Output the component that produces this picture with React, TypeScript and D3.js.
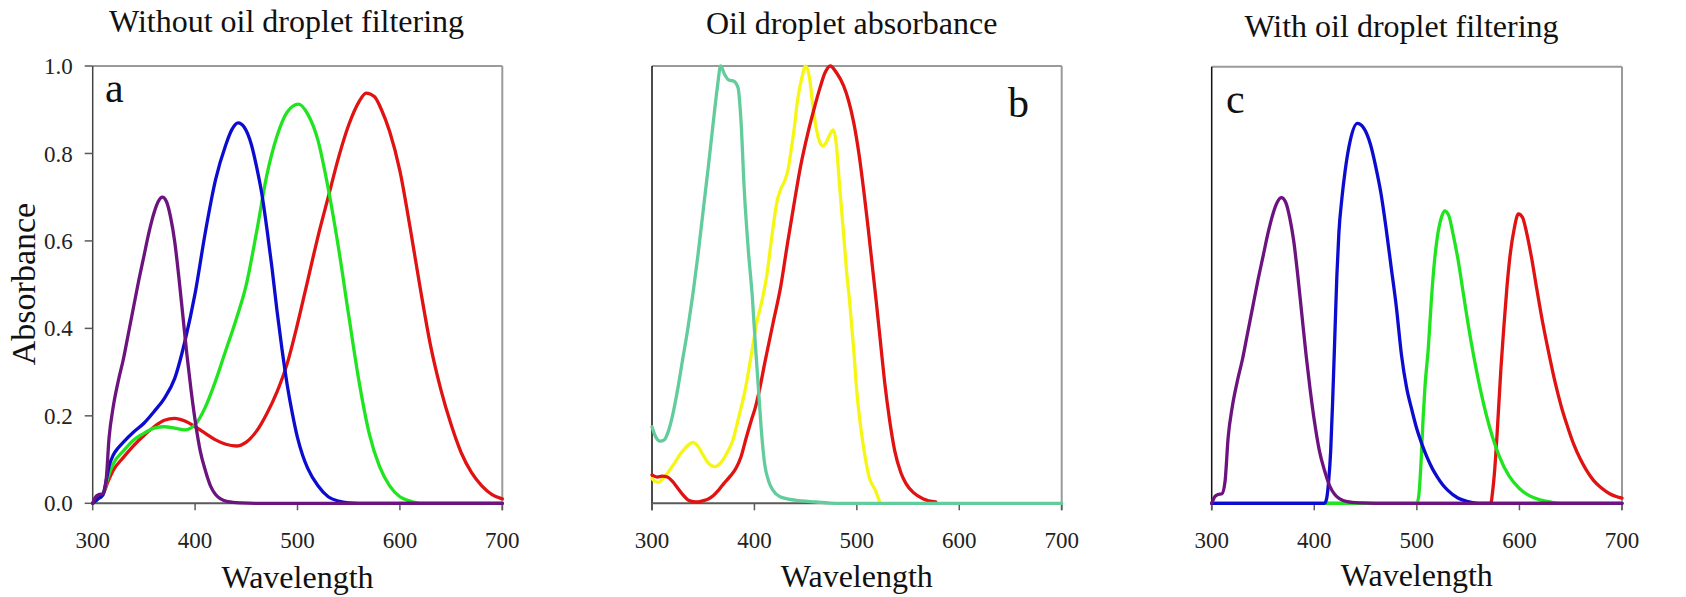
import React from 'react';
import * as d3 from 'd3';

type Pt = [number, number];

// ---------- data ----------
const xTickValues = [300, 400, 500, 600, 700];
const yTickValues = [0, 0.2, 0.4, 0.6, 0.8, 1.0];
const panelTitles = ['Without oil droplet filtering', 'Oil droplet absorbance', 'With oil droplet filtering'];
const panelLetters = ['a', 'b', 'c'];
const xAxisTitle = 'Wavelength';
const yAxisTitle = 'Absorbance';

// a: visual pigments (no oil droplet)
const uvPigment: Pt[] = [
  [300, 0.0], [303, 0.015], [306, 0.02], [310, 0.022], [313, 0.05], [316, 0.15], [320, 0.22], [325, 0.28],
  [330, 0.33], [335, 0.39], [340, 0.45], [345, 0.51], [350, 0.565], [355, 0.62], [360, 0.665], [364, 0.69],
  [368, 0.7], [372, 0.69], [376, 0.655], [380, 0.6], [384, 0.52], [388, 0.43], [392, 0.34], [396, 0.26],
  [400, 0.19], [405, 0.12], [410, 0.075], [415, 0.04], [420, 0.02], [425, 0.01], [432, 0.004], [445, 0.001],
  [460, 0], [700, 0],
];
const swsPigment: Pt[] = [
  [300, 0], [305, 0.01], [310, 0.02], [313, 0.05], [316, 0.085], [320, 0.11], [325, 0.127], [330, 0.14],
  [340, 0.163], [350, 0.183], [360, 0.21], [370, 0.24], [380, 0.285], [390, 0.37], [400, 0.48], [410, 0.62],
  [420, 0.74], [430, 0.82], [436, 0.855], [442, 0.87], [448, 0.86], [455, 0.82], [460, 0.77], [465, 0.71],
  [470, 0.63], [475, 0.54], [480, 0.44], [485, 0.35], [490, 0.27], [495, 0.205], [500, 0.15], [505, 0.11],
  [510, 0.08], [520, 0.04], [530, 0.015], [540, 0.005], [550, 0.001], [560, 0], [700, 0],
];
const mwsPigment: Pt[] = [
  [300, 0], [305, 0.01], [310, 0.02], [315, 0.06], [320, 0.09], [330, 0.12], [340, 0.145], [350, 0.16],
  [360, 0.172], [370, 0.175], [380, 0.172], [390, 0.168], [400, 0.18], [410, 0.22], [420, 0.28], [430, 0.35],
  [440, 0.42], [450, 0.5], [460, 0.62], [470, 0.75], [480, 0.84], [490, 0.895], [501, 0.913], [510, 0.89],
  [520, 0.83], [530, 0.72], [540, 0.585], [550, 0.43], [560, 0.28], [570, 0.16], [580, 0.085], [590, 0.04],
  [600, 0.015], [610, 0.005], [620, 0], [700, 0],
];
const lwsPigment: Pt[] = [
  [300, 0], [305, 0.01], [310, 0.02], [315, 0.05], [320, 0.075], [330, 0.105], [340, 0.132], [350, 0.155],
  [360, 0.175], [370, 0.19], [380, 0.194], [390, 0.188], [400, 0.175], [410, 0.16], [420, 0.145], [430, 0.135],
  [440, 0.131], [450, 0.14], [460, 0.165], [470, 0.205], [480, 0.255], [490, 0.32], [500, 0.41], [510, 0.51],
  [520, 0.61], [530, 0.7], [540, 0.79], [550, 0.865], [560, 0.918], [567, 0.938], [575, 0.93], [582, 0.9],
  [590, 0.85], [600, 0.76], [610, 0.63], [620, 0.49], [630, 0.36], [640, 0.26], [650, 0.18], [660, 0.115],
  [670, 0.07], [680, 0.04], [690, 0.02], [700, 0.01],
];

// b: oil droplet absorbance
const dropletC: Pt[] = [
  [300, 0.175], [303, 0.155], [308, 0.142], [312, 0.145], [316, 0.165], [320, 0.2], [325, 0.26], [330, 0.33],
  [335, 0.4], [340, 0.48], [345, 0.57], [350, 0.67], [355, 0.77], [360, 0.875], [364, 0.955], [367, 1.0],
  [371, 0.98], [375, 0.968], [380, 0.965], [384, 0.95], [387, 0.87], [390, 0.72], [394, 0.58], [398, 0.47],
  [401, 0.36], [404, 0.26], [407, 0.16], [410, 0.09], [414, 0.05], [418, 0.03], [425, 0.015], [440, 0.007],
  [460, 0.003], [480, 0], [700, 0],
];
const dropletY: Pt[] = [
  [300, 0.057], [303, 0.05], [306, 0.048], [310, 0.055], [320, 0.085], [330, 0.12], [340, 0.139], [345, 0.13],
  [350, 0.11], [355, 0.092], [361, 0.084], [366, 0.09], [372, 0.11], [379, 0.145], [385, 0.2], [391, 0.26],
  [397, 0.34], [402, 0.41], [408, 0.47], [412, 0.52], [417, 0.61], [422, 0.69], [426, 0.72], [430, 0.74],
  [433, 0.765], [436, 0.81], [439, 0.86], [442, 0.92], [446, 0.97], [450, 1.0], [454, 0.97], [457, 0.91],
  [461, 0.85], [464, 0.825], [467, 0.817], [470, 0.825], [474, 0.845], [477, 0.854], [480, 0.82], [483, 0.73],
  [487, 0.617], [490, 0.53], [493, 0.46], [497, 0.35], [500, 0.255], [504, 0.17], [508, 0.107], [512, 0.06],
  [518, 0.03], [522, 0.005],
];
const dropletR: Pt[] = [
  [300, 0.065], [305, 0.06], [310, 0.062], [315, 0.06], [320, 0.05], [325, 0.035], [330, 0.02], [335, 0.008],
  [340, 0.004], [345, 0.003], [350, 0.006], [355, 0.01], [360, 0.018], [365, 0.03], [370, 0.045], [376, 0.061],
  [382, 0.08], [387, 0.107], [392, 0.15], [397, 0.19], [401, 0.22], [405, 0.26], [410, 0.32], [418, 0.41],
  [426, 0.5], [432, 0.59], [438, 0.675], [445, 0.77], [452, 0.845], [458, 0.9], [464, 0.95], [469, 0.985],
  [474, 1.0], [480, 0.985], [487, 0.955], [492, 0.92], [497, 0.87], [502, 0.8], [507, 0.71], [511, 0.63],
  [515, 0.545], [519, 0.46], [523, 0.37], [527, 0.28], [532, 0.19], [537, 0.12], [543, 0.07], [548, 0.045],
  [555, 0.025], [565, 0.01], [577, 0.003],
];

// c: effective sensitivities (with oil droplet)
const uvFiltered: Pt[] = uvPigment;
const swsFiltered: Pt[] = [
  [300, 0], [410, 0], [412, 0.01], [414, 0.05], [416, 0.12], [418, 0.24], [420, 0.38], [422, 0.52],
  [424, 0.62], [427, 0.7], [430, 0.76], [435, 0.83], [442, 0.87], [448, 0.86], [455, 0.82], [460, 0.77],
  [465, 0.71], [470, 0.63], [475, 0.54], [480, 0.45], [485, 0.34], [490, 0.265], [495, 0.215], [500, 0.17],
  [505, 0.135], [510, 0.105], [515, 0.08], [520, 0.06], [525, 0.043], [530, 0.03], [540, 0.012], [550, 0.004],
  [560, 0], [700, 0],
];
const mwsFiltered: Pt[] = [
  [300, 0], [500, 0], [502, 0.02], [504, 0.09], [506, 0.19], [508, 0.27], [511, 0.35], [514, 0.46],
  [517, 0.55], [520, 0.61], [524, 0.655], [527, 0.67], [531, 0.66], [535, 0.62], [540, 0.56], [546, 0.47],
  [550, 0.41], [556, 0.33], [562, 0.26], [568, 0.2], [574, 0.15], [580, 0.11], [590, 0.062], [600, 0.034],
  [610, 0.017], [620, 0.008], [630, 0.003], [640, 0], [700, 0],
];
const lwsFiltered: Pt[] = [
  [300, 0], [572, 0], [574, 0.03], [576, 0.08], [578, 0.15], [580, 0.23], [582, 0.31], [585, 0.41],
  [588, 0.5], [591, 0.57], [595, 0.63], [599, 0.663], [603, 0.655], [607, 0.62], [612, 0.56], [617, 0.49],
  [623, 0.41], [629, 0.34], [635, 0.275], [641, 0.22], [647, 0.175], [653, 0.135], [659, 0.103], [665, 0.077],
  [672, 0.053], [680, 0.035], [688, 0.022], [695, 0.015], [700, 0.012],
];

// ---------- styles ----------
const C_PURPLE = '#6c1380';
const C_BLUE = '#0c0cd0';
const C_GREEN = '#1fe41f';
const C_RED = '#e01212';
const C_YELLOW = '#f6f615';
const C_TEAL = '#62cc9c';
const FONT = '"Liberation Serif", "DejaVu Serif", serif';

interface Series { data: Pt[]; color: string }
interface Panel {
  left: number; right: number; top: number; bottom: number;
  title: string; titleX: number; titleY: number;
  letter: string; letterX: number; letterY: number;
  xlabX: number; xlabY: number;
  yLabels: boolean; leftColor: string;
  series: Series[];
}

const panels: Panel[] = [
  {
    left: 92.7, right: 502.3, top: 66, bottom: 503.3,
    title: panelTitles[0], titleX: 286.5, titleY: 32,
    letter: panelLetters[0], letterX: 105, letterY: 102,
    xlabX: 297.5, xlabY: 587.5, yLabels: true, leftColor: '#444',
    series: [
      { data: lwsPigment, color: C_RED },
      { data: mwsPigment, color: C_GREEN },
      { data: swsPigment, color: C_BLUE },
      { data: uvPigment, color: C_PURPLE },
    ],
  },
  {
    left: 652, right: 1061.7, top: 66, bottom: 503.3,
    title: panelTitles[1], titleX: 851.7, titleY: 34,
    letter: panelLetters[1], letterX: 1008, letterY: 116.5,
    xlabX: 856.8, xlabY: 586.5, yLabels: false, leftColor: '#111',
    series: [
      { data: dropletY, color: C_YELLOW },
      { data: dropletR, color: C_RED },
      { data: dropletC, color: C_TEAL },
    ],
  },
  {
    left: 1211.7, right: 1622, top: 66.7, bottom: 503.3,
    title: panelTitles[2], titleX: 1401.5, titleY: 36.5,
    letter: panelLetters[2], letterX: 1226, letterY: 113,
    xlabX: 1416.8, xlabY: 585.5, yLabels: false, leftColor: '#111',
    series: [
      { data: lwsFiltered, color: C_RED },
      { data: mwsFiltered, color: C_GREEN },
      { data: swsFiltered, color: C_BLUE },
      { data: uvFiltered, color: C_PURPLE },
    ],
  },
];

function PanelView({ p }: { p: Panel }) {
  const x = d3.scaleLinear().domain([300, 700]).range([p.left, p.right]);
  const y = d3.scaleLinear().domain([0, 1]).range([p.bottom, p.top]);
  const line = d3.line<Pt>().x(d => x(d[0])).y(d => y(d[1])).curve(d3.curveMonotoneX);
  return (
    <g>
      <text x={p.titleX} y={p.titleY} textAnchor="middle" fontSize={32} fontFamily={FONT} fill="#111">{p.title}</text>
      {/* frame */}
      <line x1={p.left} x2={p.right} y1={p.top} y2={p.top} stroke="#9a9a9a" strokeWidth={2} />
      <line x1={p.right} x2={p.right} y1={p.top} y2={p.bottom + 7} stroke="#9a9a9a" strokeWidth={2} />
      <line x1={p.left} x2={p.left} y1={p.top} y2={p.bottom + (p.yLabels ? 0 : 7)} stroke={p.leftColor} strokeWidth={1.5} />
      <line x1={p.left} x2={p.right} y1={p.bottom} y2={p.bottom} stroke="#5a5a5a" strokeWidth={2} />
      {xTickValues.map(t => (
        <g key={t}>
          <line x1={x(t)} x2={x(t)} y1={p.bottom} y2={p.bottom + 7} stroke="#5a5a5a" strokeWidth={1.5} />
          <text x={x(t)} y={548} textAnchor="middle" fontSize={23} fontFamily={FONT} fill="#222">{t}</text>
        </g>
      ))}
      {p.yLabels && yTickValues.map(t => (
        <g key={t}>
          <line x1={p.left - 8} x2={p.left} y1={y(t)} y2={y(t)} stroke="#5a5a5a" strokeWidth={1.5} />
          <text x={p.left - 20} y={y(t)} dy="0.35em" textAnchor="end" fontSize={23} fontFamily={FONT} fill="#222">{t.toFixed(1)}</text>
        </g>
      ))}
      {p.series.map((s, i) => (
        <path key={i} d={line(s.data) ?? ''} fill="none" stroke={s.color} strokeWidth={3.3} strokeLinejoin="round" strokeLinecap="round" />
      ))}
      <text x={p.letterX} y={p.letterY} fontSize={42} fontFamily={FONT} fill="#111">{p.letter}</text>
      <text x={p.xlabX} y={p.xlabY} textAnchor="middle" fontSize={32} fontFamily={FONT} fill="#111">{xAxisTitle}</text>
    </g>
  );
}

export default function App() {
  return (
    <svg width={1686} height={597} style={{ position: 'absolute', left: 0, top: 0, background: '#fff' }}>
      <rect x={0} y={0} width={1686} height={597} fill="#fff" />
      {panels.map((p, i) => <PanelView key={i} p={p} />)}
      <text transform="translate(35,284) rotate(-90)" textAnchor="middle" fontSize={34} fontFamily={FONT} fill="#111">{yAxisTitle}</text>
    </svg>
  );
}
